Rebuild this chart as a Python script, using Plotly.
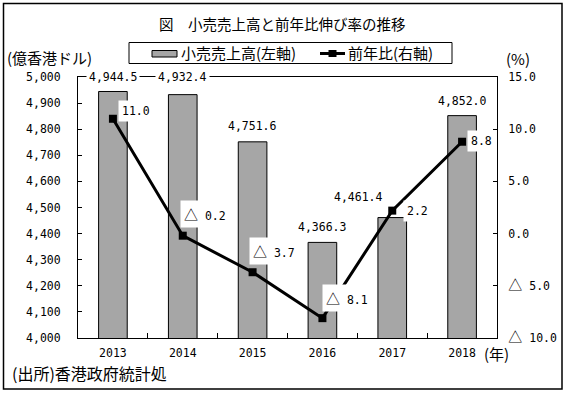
import plotly.graph_objects as go

# ---- data ----
years = ["2013", "2014", "2015", "2016", "2017", "2018"]
sales = [4944.5, 4932.4, 4751.6, 4366.3, 4461.4, 4852.0]      # 億香港ドル (left axis)
growth = [11.0, -0.2, -3.7, -8.1, 2.2, 8.8]                    # % (right axis)
left_tickvals = [4000, 4100, 4200, 4300, 4400, 4500, 4600, 4700, 4800, 4900, 5000]
right_tickvals = [15, 10, 5, 0, -5, -10]
bar_name = "小売売上高(左軸)"
line_name = "前年比(右軸)"

# ---- label offsets (px) ----
sales_lbl_dx = [0, 0, 0, 0, -34, 0]
sales_lbl_dy = [14.5, 17.6, 15.8, 15.4, 20.6, 14.9]
gr_lbl_dx = [23, 22, 21, 25, 25, 19]
gr_lbl_dy = [8, 22, 21, 20, 0, 1]

NUM = "DejaVu Sans Mono"
JP = "Noto Sans CJK JP"
NS = 11.5
TRI = '<span style="font-family:Noto Sans CJK JP;font-size:14px">△</span>'


def fmt_num(v):
    return f"{v:.1f}" if v >= 0 else f"{TRI} {abs(v):.1f}"


# plot-area geometry helpers (paper coords from pixel positions)
L, R, T, B = 78, 69, 77, 56
W, H = 566, 394
PW, PH = W - L - R, H - T - B


def px(xp):
    return (xp - L) / PW


def py(yp):
    return (H - B - yp) / PH


fig = go.Figure()
fig.add_trace(go.Bar(
    x=years, y=sales, name=bar_name,
    marker=dict(color="#a6a6a6", line=dict(color="black", width=1)),
    width=0.41, yaxis="y",
))
fig.add_trace(go.Scatter(
    x=years, y=growth, name=line_name, mode="lines+markers",
    line=dict(color="black", width=3),
    marker=dict(symbol="square", size=8, color="black"),
    yaxis="y2",
))

ann = []
for i, v in enumerate(sales):
    ann.append(dict(x=i, y=v, xref="x", yref="y", text=f"{v:,.1f}",
                    showarrow=False, xanchor="center", yanchor="middle",
                    xshift=sales_lbl_dx[i], yshift=sales_lbl_dy[i],
                    bgcolor="white", borderpad=2,
                    font=dict(family=NUM, size=NS, color="black")))
for i, v in enumerate(growth):
    ann.append(dict(x=i, y=v, xref="x", yref="y2", text=fmt_num(v),
                    showarrow=False, xanchor="center", yanchor="middle",
                    xshift=gr_lbl_dx[i], yshift=gr_lbl_dy[i],
                    bgcolor="white", borderpad=3,
                    font=dict(family=NUM, size=NS, color="black")))

ann += [
    dict(text="図　小売売上高と前年比伸び率の推移", xref="paper", yref="paper",
         x=px(282), y=py(23), xanchor="center", yanchor="middle", showarrow=False,
         font=dict(family=JP, size=14.5, color="black")),
    dict(text="(億香港ドル)", xref="paper", yref="paper", x=px(49.5), y=py(57.5),
         xanchor="center", yanchor="middle", showarrow=False,
         font=dict(family=JP, size=15, color="black")),
    dict(text="(%)", xref="paper", yref="paper", x=px(518), y=py(58),
         xanchor="center", yanchor="middle", showarrow=False,
         font=dict(family=JP, size=15, color="black")),
    dict(text="(年)", xref="paper", yref="paper", x=px(496), y=py(353),
         xanchor="center", yanchor="middle", showarrow=False,
         font=dict(family=JP, size=15, color="black")),
    dict(text="(出所)香港政府統計処", xref="paper", yref="paper", x=px(89.5), y=py(373),
         xanchor="center", yanchor="middle", showarrow=False,
         font=dict(family=JP, size=16, color="black")),
    # legend texts
    dict(text=bar_name, xref="paper", yref="paper", x=px(238.5), y=py(53),
         xanchor="center", yanchor="middle", showarrow=False,
         font=dict(family=JP, size=15, color="black")),
    dict(text=line_name, xref="paper", yref="paper", x=px(390), y=py(53),
         xanchor="center", yanchor="middle", showarrow=False,
         font=dict(family=JP, size=15, color="black")),
]

shapes = [
    # outer frame
    dict(type="rect", xref="paper", yref="paper", x0=px(3.5), x1=px(562), y0=py(389), y1=py(3.5),
         line=dict(color="black", width=1.5), layer="below"),
    # legend box
    dict(type="rect", xref="paper", yref="paper", x0=px(129), x1=px(452), y0=py(63.5), y1=py(42.5),
         line=dict(color="black", width=1), fillcolor="white"),
    # legend key: bar
    dict(type="rect", xref="paper", yref="paper", x0=px(152), x1=px(177), y0=py(57), y1=py(50.5),
         line=dict(color="black", width=1), fillcolor="#a6a6a6"),
    # legend key: line + marker
    dict(type="line", xref="paper", yref="paper", x0=px(320), x1=px(345), y0=py(53.5), y1=py(53.5),
         line=dict(color="black", width=3)),
    dict(type="rect", xref="paper", yref="paper", x0=px(328.5), x1=px(336.5), y0=py(57), y1=py(50),
         line=dict(color="black", width=0), fillcolor="black"),
]

fig.update_layout(
    width=W, height=H,
    margin=dict(l=L, r=R, t=T, b=B, autoexpand=False),
    paper_bgcolor="white", plot_bgcolor="white",
    showlegend=False,
    xaxis=dict(type="category", range=[-0.5, 5.5], showline=True, linecolor="black",
               linewidth=1, mirror=True, ticks="inside", tickson="boundaries",
               ticklen=5, tickcolor="black", showgrid=False, automargin=False,
               tickfont=dict(family=NUM, size=NS, color="black"),
               ticklabelstandoff=4),
    yaxis=dict(range=[4000, 5000], tickvals=left_tickvals, tickformat=",",
               showline=True, linecolor="black", linewidth=1, ticks="inside",
               ticklen=4, tickcolor="black", showgrid=False, zeroline=False,
               automargin=False,
               tickfont=dict(family=NUM, size=NS, color="black"),
               ticklabelstandoff=14),
    yaxis2=dict(range=[-10, 15], overlaying="y", side="right",
                tickvals=right_tickvals, ticktext=[fmt_num(v) for v in right_tickvals],
                showline=True, linecolor="black", linewidth=1, ticks="inside",
                ticklen=4, tickcolor="black", showgrid=False, zeroline=False,
                automargin=False,
                tickfont=dict(family=NUM, size=NS, color="black"),
                ticklabelstandoff=8),
    annotations=ann,
    shapes=shapes,
)

fig.write_html("out.html",
               config={"displayModeBar": False, "staticPlot": True},
               post_script="document.body.style.margin='0';document.body.style.overflow='hidden';")
